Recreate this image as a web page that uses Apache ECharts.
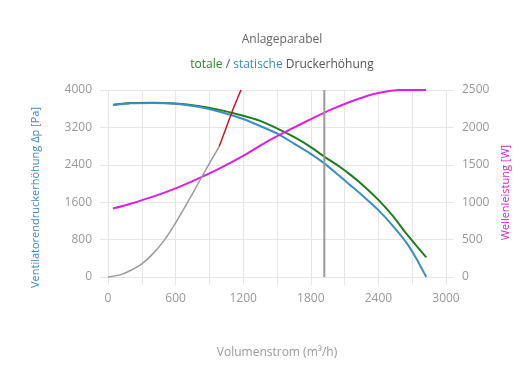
<!DOCTYPE html>
<html>
<head>
<meta charset="utf-8">
<script src="https://cdn.jsdelivr.net/npm/echarts@6/dist/echarts.min.js"></script>
<style>html,body{margin:0;padding:0;background:#fff}#c{width:530px;height:390px}</style>
</head>
<body>
<div id="c"></div>
<script>
// Anlagenkennlinie (system curve) in Pa
const systemX = [0, 100, 200, 300, 400, 500, 600, 700, 800, 900, 987];
const systemY = [0, 40, 140, 280, 500, 790, 1160, 1570, 2000, 2430, 2790];
const systemExtX = [987, 1050, 1110, 1180];
const systemExtY = [2790, 3200, 3590, 4000];
// Ventilator curves (Pa)
const fanX = [44, 200, 400, 600, 800, 1000, 1200, 1350, 1500, 1650, 1800, 1920, 2050, 2150, 2250, 2400, 2530, 2650, 2740, 2825];
const staticP = [3680, 3715, 3722, 3705, 3640, 3530, 3380, 3230, 3070, 2855, 2635, 2430, 2170, 1965, 1760, 1430, 1090, 730, 380, 0];
const totalP = [3685, 3720, 3728, 3712, 3660, 3570, 3450, 3340, 3180, 2995, 2780, 2575, 2370, 2190, 1990, 1650, 1300, 920, 660, 420];
// Wellenleistung (W)
const powerX = [44, 200, 400, 600, 800, 1000, 1200, 1400, 1600, 1800, 2000, 2200, 2400, 2600, 2822];
const powerW = [915, 980, 1075, 1185, 1315, 1460, 1620, 1800, 1960, 2110, 2250, 2370, 2460, 2500, 2500];
// Betriebspunkt
const operatingX = 1920;
const xTicks = [0, 600, 1200, 1800, 2400, 3000];

const pairs = (xs, ys) => xs.map((x, i) => [x, ys[i]]);
const FONT = '"Open Sans", "Noto Sans", sans-serif';
const gridCol = '#e6e6e6';
const labelCol = '#999';

const chart = echarts.init(document.getElementById('c'), null, {renderer: 'canvas'});
chart.setOption({
  animation: false,
  textStyle: {fontFamily: FONT},
  title: [
    {text: 'Anlageparabel', left: 277, top: 29, textAlign: 'center',
     textStyle: {fontFamily: FONT, fontSize: 12, fontWeight: 'normal', color: '#666'}},
    {text: '{g|totale} {d|/} {b|statische} {d|Druckerhöhung}', left: 277, top: 54, textAlign: 'center',
     textStyle: {fontFamily: FONT, fontSize: 12, fontWeight: 'normal',
       rich: {
         g: {color: '#2a862a', fontSize: 12, fontFamily: FONT},
         b: {color: '#3a8abb', fontSize: 12, fontFamily: FONT},
         d: {color: '#555', fontSize: 12, fontFamily: FONT}
       }}}
  ],
  grid: {left: 108, right: 84, top: 90, bottom: 113},
  xAxis: {
    type: 'value', min: 0, max: 3000, interval: 300,
    name: 'Volumenstrom (m³/h)', nameLocation: 'middle', nameGap: 70,
    nameTextStyle: {color: labelCol, fontSize: 12, fontFamily: FONT},
    axisLine: {show: false},
    axisTick: {show: true, length: 8, lineStyle: {color: gridCol}},
    axisLabel: {color: labelCol, fontSize: 12, fontFamily: FONT, margin: 16,
      formatter: v => xTicks.includes(v) ? String(v) : ''},
    splitLine: {show: true, lineStyle: {color: gridCol}}
  },
  yAxis: [
    {
      type: 'value', min: 0, max: 4000, interval: 800, position: 'left',
      name: 'Ventilatorendruckerhöhung Δp [Pa]', nameLocation: 'middle', nameGap: 67, nameRotate: 90,
      nameTextStyle: {color: '#3a8abb', fontSize: 11, fontFamily: FONT, padding: [0, 28, 0, 0]},
      axisLine: {show: false},
      axisTick: {show: true, length: 8, lineStyle: {color: gridCol}},
      axisLabel: {color: labelCol, fontSize: 12, fontFamily: FONT, margin: 16, formatter: v => String(v)},
      splitLine: {show: true, lineStyle: {color: gridCol}}
    },
    {
      type: 'value', min: 0, max: 2500, interval: 500, position: 'right',
      name: 'Wellenleistung [W]', nameLocation: 'middle', nameGap: 48, nameRotate: 90,
      nameTextStyle: {color: '#cc22cc', fontSize: 11, fontFamily: FONT, padding: [0, 18, 0, 0]},
      axisLine: {show: false},
      axisTick: {show: true, length: 8, lineStyle: {color: gridCol}},
      axisLabel: {color: labelCol, fontSize: 12, fontFamily: FONT, margin: 16, formatter: v => String(v)},
      splitLine: {show: false}
    }
  ],
  series: [
    {type: 'line', name: 'totale', data: pairs(fanX, totalP), yAxisIndex: 0, symbol: 'none',
     smooth: 0.15, clip: false, lineStyle: {color: '#1f7d1f', width: 2}},
    {type: 'line', name: 'statische', data: pairs(fanX, staticP), yAxisIndex: 0, symbol: 'none',
     smooth: 0.15, clip: false, lineStyle: {color: '#3b8ec4', width: 2}},
    {type: 'line', name: 'Wellenleistung', data: pairs(powerX, powerW), yAxisIndex: 1, symbol: 'none',
     smooth: 0.2, clip: false, lineStyle: {color: '#e01ee0', width: 2}},
    {type: 'line', name: 'Anlage', data: pairs(systemX, systemY), yAxisIndex: 0, symbol: 'none',
     smooth: 0.2, clip: false, lineStyle: {color: '#9a9a9a', width: 1.5}},
    {type: 'line', name: 'Anlage ext', data: pairs(systemExtX, systemExtY), yAxisIndex: 0, symbol: 'none',
     smooth: 0.2, clip: false, lineStyle: {color: '#d0141e', width: 1.5}},
    {type: 'line', name: 'Betriebspunkt', data: [[operatingX, 0], [operatingX, 4000]], yAxisIndex: 0, symbol: 'none',
     clip: false, lineStyle: {color: '#999', width: 2}}
  ]
});
</script>
</body>
</html>
